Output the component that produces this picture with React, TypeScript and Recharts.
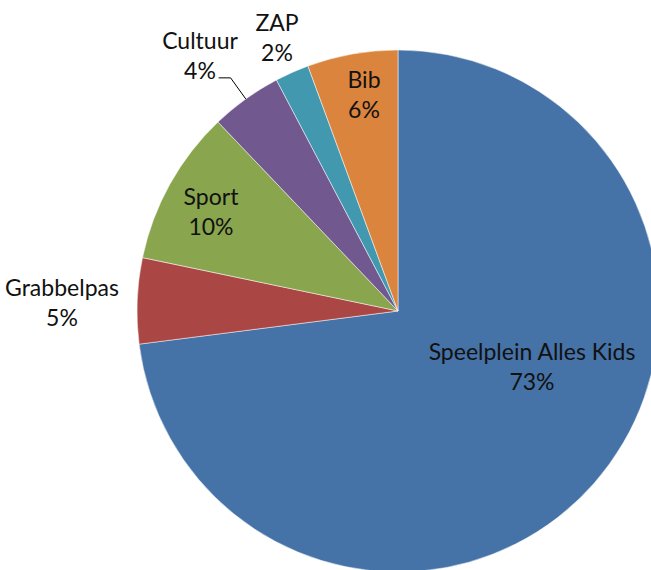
import { Cell, Pie, PieChart } from "recharts";

const NAMES = ["Speelplein Alles Kids", "Grabbelpas", "Sport", "Cultuur", "ZAP", "Bib"];
const VALUES = [72.9, 5.3, 9.6, 4.4, 2.1, 5.6];
const COLORS = ["#4572A7", "#AA4643", "#89A54E", "#71588F", "#4198AF", "#DB843D"];

const data = NAMES.map((name, i) => ({ name, value: VALUES[i] }));
const total = VALUES.reduce((a, b) => a + b, 0);

// label block centres, offset from the pie centre (Excel "best fit" placement)
const LABEL_AT: Record<string, [number, number]> = {
  "Speelplein Alles Kids": [134, 56],
  Grabbelpas: [-336, -8],
  Sport: [-187, -99],
  Cultuur: [-198, -255],
  ZAP: [-121, -273],
  Bib: [-34, -216],
};
const LEADER = new Set(["Cultuur"]);

const FONT = "Lato, 'Open Sans', sans-serif";
const CX = 398;
const CY = 311;
const R = 261;
const RAD = Math.PI / 180;

function renderLabel(p: any) {
  const name = p.name as string;
  const [dx, dy] = LABEL_AT[name];
  const x = p.cx + dx;
  const y = p.cy + dy;
  const pct = `${Math.round((p.value / total) * 100)}%`;
  let leader = null;
  if (LEADER.has(name)) {
    const a = -p.midAngle * RAD;
    const x0 = p.cx + p.outerRadius * Math.cos(a);
    const y0 = p.cy + p.outerRadius * Math.sin(a);
    const x1 = p.cx + (p.outerRadius + 26) * Math.cos(a);
    const y1 = p.cy + (p.outerRadius + 26) * Math.sin(a);
    leader = <path d={`M${x0},${y0}L${x1},${y1}L${x1 - 12},${y1}`} stroke="#000" strokeWidth={1} fill="none" />;
  }
  return (
    <g>
      {leader}
      <text x={x} textAnchor="middle" fill="#111" fontFamily={FONT} fontSize={23}>
        <tspan x={x} y={y - 7}>{name}</tspan>
        <tspan x={x} y={y + 23}>{pct}</tspan>
      </text>
    </g>
  );
}

export default function App() {
  return (
    <div style={{ position: "absolute", left: 0, top: 0, width: 651, height: 570, background: "#fff" }}>
      <PieChart width={651} height={570} margin={{ top: 0, right: 0, bottom: 0, left: 0 }}>
        <Pie
          data={data}
          dataKey="value"
          nameKey="name"
          cx={CX}
          cy={CY}
          outerRadius={R}
          startAngle={90}
          endAngle={-270}
          stroke="#fff"
          strokeWidth={0.5}
          label={renderLabel}
          labelLine={false}
          isAnimationActive={false}
        >
          {data.map((d, i) => (
            <Cell key={d.name} fill={COLORS[i]} />
          ))}
        </Pie>
      </PieChart>
    </div>
  );
}
